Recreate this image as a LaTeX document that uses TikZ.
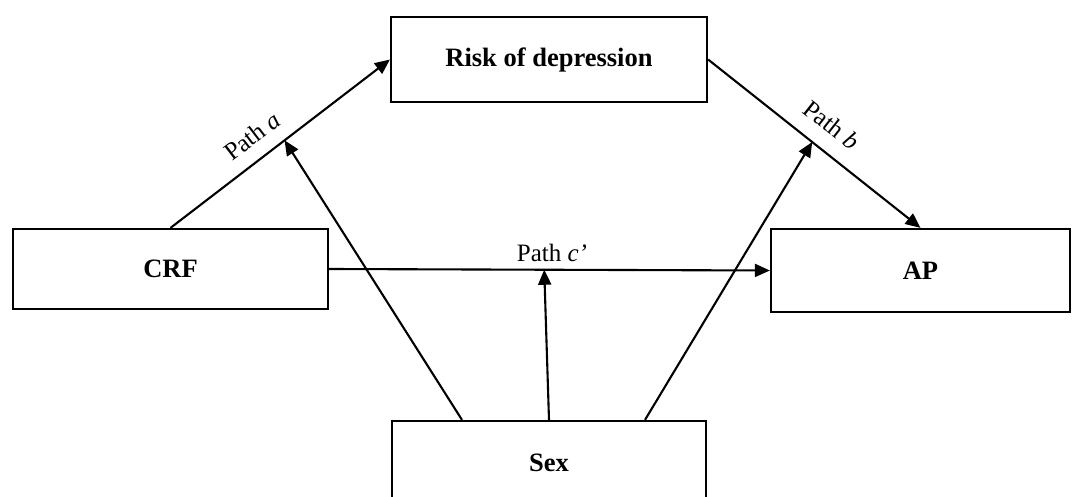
\documentclass[tikz,border=0pt]{standalone}
\usepackage{fontspec}
\setmainfont{Liberation Serif}
\usetikzlibrary{arrows.meta}
\begin{document}
\begin{tikzpicture}[x=1pt,y=-1pt,
  box/.style={draw, line width=2.2pt, rectangle, inner sep=0pt,
    font=\fontsize{26.5}{30}\selectfont\bfseries},
  conn/.style={line width=2.1pt, -{Triangle[length=15pt,width=13pt]}},
  lbl/.style={font=\fontsize{25}{28}\selectfont, inner sep=0pt}]
  \clip (0,0) rectangle (1074,497);
  % variables
  \node[box, minimum width=316pt, minimum height=85pt] (risk) at (549,59.5) {Risk of depression};
  \node[box, minimum width=315pt, minimum height=80pt] (crf) at (170.5,269) {CRF};
  \node[box, minimum width=299pt, minimum height=83pt] (ap) at (920.5,270.5) {AP};
  \node[box, minimum width=314pt, minimum height=84pt, text depth=0pt] (sex) at (549,463) {Sex};
  % mediation paths
  \draw[conn] (crf.north) -- coordinate[pos=0.52] (ma) (risk.west);
  \draw[conn] (risk.east) -- coordinate[pos=0.49] (mb) (ap.north);
  \draw[conn] (crf.east) -- coordinate[pos=0.488] (mc) (ap.west);
  % path labels
  \node[lbl, rotate=37.3] (la) at (252,136) {Path \textit{a}};
  \node[lbl, rotate=-38.2] (lb) at (832,125) {Path \textit{b}};
  \node[lbl] (lc) at (552,253) {Path \textit{c’}};
  % moderation by sex
  \draw[conn] ([xshift=-87pt]sex.north) -- (ma);
  \draw[conn] (sex.north) -- (mc);
  \draw[conn] ([xshift=96pt]sex.north) -- (mb);
\end{tikzpicture}
\end{document}
